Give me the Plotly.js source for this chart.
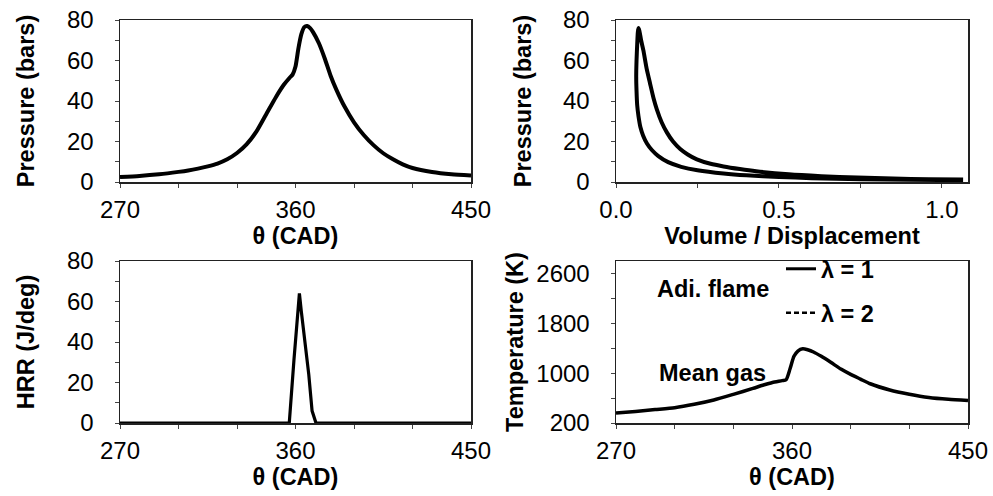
<!DOCTYPE html>
<html>
<head>
<meta charset="utf-8">
<script src="https://cdn.plot.ly/plotly-3.0.1.min.js"></script>
<style>html,body{margin:0;padding:0;background:#fff;}#chart{width:993px;height:496px;}</style>
</head>
<body>
<div id="chart"></div>
<script>
// Panel 1: cylinder pressure vs crank angle
const thetaP = [270, 280, 290, 300, 305, 310, 315, 320, 325, 330, 335, 340, 345, 350, 354, 357, 358.5, 360, 361.5, 363, 364.5, 366, 367.5, 369, 372, 375, 378, 381, 385, 390, 395, 400, 405, 410, 415, 420, 430, 440, 450];
const pressure = [2.5, 3.0, 3.8, 5.0, 5.7, 6.6, 7.7, 9.1, 11.2, 14.3, 18.7, 25, 33.5, 42, 48, 51.5, 53, 57, 66, 73, 76.5, 77, 76, 74, 68.5, 61, 52.5, 45.5, 37.5, 29.5, 23.2, 18.2, 14.2, 11.2, 8.7, 6.9, 4.9, 3.8, 3.2];

// Panel 2: P-V loop (compression branch then expansion branch)
const volRatio = [1.065, 0.9, 0.75, 0.6, 0.5, 0.4, 0.33, 0.25, 0.2, 0.16, 0.13, 0.11, 0.095, 0.083, 0.075, 0.069, 0.065, 0.063, 0.062,
                  0.063, 0.065, 0.067, 0.069, 0.072, 0.077, 0.084, 0.094, 0.104, 0.115, 0.125, 0.14, 0.156, 0.175, 0.197, 0.22, 0.248, 0.29, 0.33, 0.38, 0.43, 0.53, 0.63, 0.74, 0.85, 0.96, 1.065];
const pressurePV = [0.9, 1.1, 1.4, 1.9, 2.5, 3.3, 4.2, 5.8, 7.5, 9.8, 12.8, 15.8, 19, 23, 27, 32.5, 38, 45, 52,
                    60, 68, 74, 76, 74.5, 70, 65, 56, 49, 41.5, 36, 29.5, 24.5, 20, 16.3, 13.6, 11.2, 9, 7.7, 6.4, 5.3, 3.8, 2.9, 2.2, 1.7, 1.4, 1.2];

// Panel 3: heat release rate
const thetaH = [270, 300, 330, 356.8, 359.2, 362, 363, 365, 366.8, 368.5, 370.5, 380, 420, 450];
const hrr = [0, 0, 0, 0, 31, 64, 55, 40, 24, 6, 0, 0, 0, 0];

// Panel 4: mean gas temperature
const thetaT = [270, 280, 290, 300, 310, 320, 330, 340, 345, 350, 355, 357, 359, 361, 363, 365.5, 368, 371, 375, 380, 385, 390, 395, 400, 410, 420, 430, 440, 450];
const temperature = [360, 385, 415, 445, 500, 570, 660, 755, 805, 850, 880, 895, 1070, 1270, 1355, 1390, 1375, 1340, 1270, 1170, 1065, 980, 905, 830, 730, 662, 610, 580, 560];

// Legend labels (adiabatic flame temperature)
const lambdaLabels = ["λ = 1", "λ = 2"];

const FONT = "Liberation Sans, Arial, sans-serif";
const tickFont = {family: FONT, size: 24, color: "#000"};
const titleFont = {family: FONT, size: 23.5, color: "#000", weight: 700};

function xTheta(anchor, domain) {
  return {
    domain: domain, anchor: anchor, range: [270, 450], tickvals: [270, 360, 450],
    ticks: "outside", ticklen: 4, tickcolor: "#444", tickwidth: 1,
    minor: {dtick: 30, tick0: 270, ticks: "outside", ticklen: 4, tickcolor: "#444"},
    showline: true, mirror: true, linecolor: "#222", linewidth: 1.5,
    showgrid: false, zeroline: false, tickfont: tickFont, ticklabelstandoff: 2,
    title: {text: "θ (CAD)", font: titleFont, standoff: 1}
  };
}
function yAxis(anchor, domain, range, dtick, minorDtick, tick0, title, standoff) {
  return {
    domain: domain, anchor: anchor, range: range, dtick: dtick, tick0: tick0,
    ticks: "outside", ticklen: 4, tickcolor: "#444", tickwidth: 1,
    minor: {dtick: minorDtick, tick0: tick0, ticks: "outside", ticklen: 4, tickcolor: "#444"},
    showline: true, mirror: true, linecolor: "#222", linewidth: 1.5,
    showgrid: false, zeroline: false, tickfont: tickFont, ticklabelstandoff: 16,
    title: {text: title, font: titleFont, standoff: standoff}
  };
}

const W = 993, H = 496;
const dxL = [120 / W, 471 / W], dxR = [616 / W, 968 / W];
const dyT = [1 - 182 / H, 1 - 20 / H], dyB = [1 - 423 / H, 1 - 261 / H];

const line = (w) => ({color: "#000", width: w, shape: "spline", smoothing: 0.6});

const traces = [
  {x: thetaP, y: pressure, xaxis: "x", yaxis: "y", mode: "lines", line: line(4), showlegend: false},
  {x: volRatio, y: pressurePV, xaxis: "x2", yaxis: "y2", mode: "lines", line: line(4), showlegend: false},
  {x: thetaH, y: hrr, xaxis: "x3", yaxis: "y3", mode: "lines", line: {color: "#000", width: 3.2}, showlegend: false},
  {x: thetaT, y: temperature, xaxis: "x4", yaxis: "y4", mode: "lines", line: line(3.5), showlegend: false},
  {x: [null], y: [null], xaxis: "x4", yaxis: "y4", mode: "lines", name: lambdaLabels[0], line: {color: "#000", width: 3}, showlegend: true, legend: "legend"},
  {x: [null], y: [null], xaxis: "x4", yaxis: "y4", mode: "lines", name: lambdaLabels[1], line: {color: "#000", width: 2.5, dash: "5px,3px"}, showlegend: true, legend: "legend2"}
];

const legendBase = {xanchor: "left", yanchor: "middle", bgcolor: "rgba(0,0,0,0)", borderwidth: 0,
  font: {family: FONT, size: 23.5, color: "#000", weight: 700}, itemwidth: 30};

const layout = {
  width: W, height: H, margin: {l: 0, r: 0, t: 0, b: 0},
  paper_bgcolor: "#fff", plot_bgcolor: "#fff",
  xaxis: xTheta("y", dxL),
  yaxis: yAxis("x", dyT, [0, 80], 20, 10, 0, "Pressure (bars)", 26),
  xaxis2: Object.assign(xTheta("y2", dxR), {range: [0, 1.08], tickvals: [0, 0.5, 1.0], ticktext: ["0.0", "0.5", "1.0"],
    minor: {dtick: 0.25, tick0: 0, ticks: "outside", ticklen: 4, tickcolor: "#444"},
    title: {text: "Volume / Displacement", font: titleFont, standoff: 1}}),
  yaxis2: yAxis("x2", dyT, [0, 80], 20, 10, 0, "Pressure (bars)", 25),
  xaxis3: xTheta("y3", dxL),
  yaxis3: yAxis("x3", dyB, [0, 80], 20, 10, 0, "HRR (J/deg)", 26),
  xaxis4: xTheta("y4", dxR),
  yaxis4: yAxis("x4", dyB, [200, 2800], 800, 400, 200, "Temperature (K)", 6),
  legend: Object.assign({}, legendBase, {x: 781 / W, y: 1 - 269 / H}),
  legend2: Object.assign({}, legendBase, {x: 781 / W, y: 1 - 313 / H}),
  annotations: [
    {xref: "x4", yref: "y4", x: 290, y: 2344, text: "Adi. flame", showarrow: false, xanchor: "left", yanchor: "middle", font: titleFont},
    {xref: "x4", yref: "y4", x: 291, y: 1000, text: "Mean gas", showarrow: false, xanchor: "left", yanchor: "middle", font: titleFont}
  ]
};

Plotly.newPlot("chart", traces, layout, {staticPlot: true, displayModeBar: false});
</script>
</body>
</html>
